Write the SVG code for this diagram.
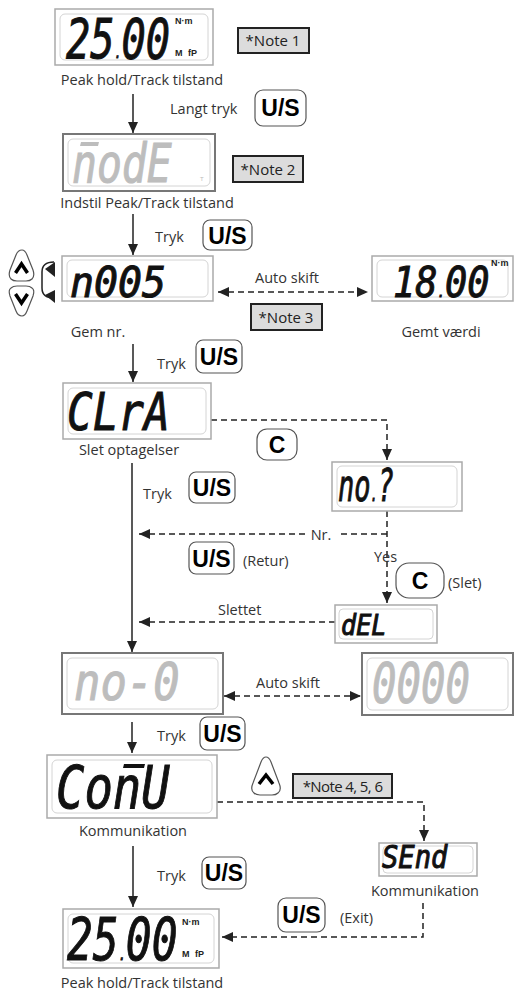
<svg xmlns="http://www.w3.org/2000/svg" width="520" height="993" viewBox="0 0 520 993">
<style>
.lbl{font-family:"Open Sans","Liberation Sans",sans-serif;font-size:14.5px;fill:#333}
.note-r{fill:#dcdcdc;stroke:#222;stroke-width:2}
.note-t{font-family:"Open Sans","Liberation Sans",sans-serif;font-size:15px;fill:#222;text-anchor:middle}
.lcd-o{fill:#fff;stroke:#aaa;stroke-width:1.5}
.lcd-od{fill:#fff;stroke:#777;stroke-width:2}
.lcd-i{fill:#fff;stroke:#d4d4d4;stroke-width:1}
.lcd{font-family:"DejaVu Sans Mono",monospace;font-style:oblique;fill:#111;stroke:#111;stroke-width:1}
.lcdg{font-family:"DejaVu Sans Mono",monospace;font-style:oblique;fill:#bdbdbd;stroke:#bdbdbd;stroke-width:1}
.unit{font-family:"Liberation Sans",sans-serif;font-weight:bold;font-size:9px;fill:#222}
.btn{fill:#fff;stroke:#555;stroke-width:1.2}
.btn-t{font-family:"Liberation Sans",sans-serif;font-weight:bold;font-size:23px;fill:#000;text-anchor:middle}
.solid{fill:none;stroke:#222;stroke-width:1.5}
.dash{fill:none;stroke:#222;stroke-width:1.5;stroke-dasharray:6 4}
.chev{fill:none;stroke:#000;stroke-width:3.5;stroke-linejoin:miter;stroke-linecap:butt}
</style>
<defs>
<marker id="ah" markerUnits="userSpaceOnUse" markerWidth="12" markerHeight="10" refX="11" refY="5" orient="auto-start-reverse">
<path d="M0,0 L11,5 L0,10 Z" fill="#222"/>
</marker>
</defs>

<g id="connectors">
<path class="solid" d="M133,94 L133,133" marker-end="url(#ah)"/>
<path class="solid" d="M133,214 L133,255" marker-end="url(#ah)"/>
<path class="solid" d="M133,344 L133,382" marker-end="url(#ah)"/>
<path class="solid" d="M132,463 L132,652" marker-end="url(#ah)"/>
<path class="dash" d="M218,292 L368,292" marker-start="url(#ah)" marker-end="url(#ah)"/>
<path class="dash" d="M211,420 L387,420 L387,460" marker-end="url(#ah)"/>
<path class="dash" d="M387,534 L337,534"/>
<path class="dash" d="M305,534 L139,534" marker-end="url(#ah)"/>
<path class="dash" d="M387,511 L387,603" marker-end="url(#ah)"/>
<path class="dash" d="M335,622 L139,622" marker-end="url(#ah)"/>
<path class="dash" d="M224,696 L361,696" marker-start="url(#ah)" marker-end="url(#ah)"/>
<path class="solid" d="M132,722 L132,753" marker-end="url(#ah)"/>
<path class="dash" d="M217,802 L424,802 L424,841" marker-end="url(#ah)"/>
<path class="solid" d="M133,846 L133,907" marker-end="url(#ah)"/>
<path class="dash" d="M423,903 L423,937 L222,937" marker-end="url(#ah)"/>
<path class="solid" d="M54,262 Q42,262 42,272 L42,288 Q42,298 54,298"/>
<path d="M45,269 L55,262 L55,277 Z" fill="#222"/>
<path d="M45,295 L55,290 L55,303 Z" fill="#222"/>
</g>

<g id="peak-top">
<rect class="lcd-o" x="55" y="9" width="158" height="56"/>
<rect class="lcd-i" x="60" y="14" width="148" height="46" rx="5"/>
<text class="lcd" transform="translate(66,58) scale(0.72,1)" font-size="56">25<tspan font-size="16">.</tspan>00</text>
<text class="unit" x="175" y="24">N·m</text>
<text class="unit" x="175" y="56" font-size="7">M</text>
<text class="unit" x="188" y="56" font-size="7">fP</text>
<text class="lbl" x="142" y="85" text-anchor="middle">Peak hold/Track tilstand</text>
</g>
<g id="note1"><rect class="note-r" x="238" y="28" width="71" height="25"/><text class="note-t" x="273" y="46">*Note 1</text></g>

<g id="btn-us-1"><text class="lbl" x="170" y="114">Langt tryk</text><rect class="btn" x="255" y="90" width="51" height="36" rx="8"/><text class="btn-t" x="280.5" y="116">U/S</text></g>

<g id="mode">
<rect class="lcd-od" x="63" y="134" width="152" height="57"/>
<rect class="lcd-i" x="68" y="139" width="142" height="47" rx="5"/>
<polygon points="81,142 99,142 98,146 80,146" fill="#bdbdbd"/>
<text class="lcdg" transform="translate(72,182) scale(0.78,1)" font-size="53">nodE</text>
<text x="200" y="181" font-family="Liberation Sans,sans-serif" font-size="6" fill="#bbb">T</text>
<text class="lbl" x="147" y="208" text-anchor="middle">Indstil Peak/Track tilstand</text>
</g>
<g id="note2"><rect class="note-r" x="233" y="156" width="70" height="26"/><text class="note-t" x="268" y="175">*Note 2</text></g>

<g id="btn-us-2"><text class="lbl" x="155" y="242">Tryk</text><rect class="btn" x="203" y="220" width="49" height="30" rx="7"/><text class="btn-t" x="227.5" y="244">U/S</text></g>

<g id="updown">
<path class="btn" d="M22,250 Q25,250 27,255 L33,270 Q35,276 32,279 Q30,281 26,281 L17,281 Q13,281 11,279 Q8,276 10,270 L16,255 Q18,250 22,250 Z"/>
<polyline class="chev" points="15.5,273 21.5,264 27.5,273"/>
<path class="btn" d="M22,316 Q25,316 27,311 L33,296 Q35,290 32,288 Q30,286 26,286 L17,286 Q13,286 11,288 Q8,290 10,296 L16,311 Q18,316 22,316 Z"/>
<polyline class="chev" points="15.5,294 21.5,303 27.5,294"/>
</g>

<g id="memno">
<rect class="lcd-o" x="62" y="256" width="151" height="45"/>
<rect class="lcd-i" x="67" y="260" width="141" height="37" rx="5"/>
<text class="lcd" transform="translate(70,297) scale(0.95,1)" font-size="42">n005</text>
<text class="lbl" x="98" y="337" text-anchor="middle">Gem nr.</text>
</g>
<text class="lbl" x="287" y="283" text-anchor="middle">Auto skift</text>
<g id="note3"><rect class="note-r" x="251" y="304" width="71" height="26"/><text class="note-t" x="286" y="323">*Note 3</text></g>

<g id="memval">
<rect class="lcd-o" x="372" y="256" width="141" height="45"/>
<rect class="lcd-i" x="377" y="260" width="131" height="37" rx="5"/>
<text class="lcd" transform="translate(393,297) scale(0.88,1)" font-size="42">18<tspan font-size="14">.</tspan>00</text>
<text class="unit" x="491" y="266" font-size="8">N·m</text>
<text class="lbl" x="441" y="337" text-anchor="middle">Gemt værdi</text>
</g>

<g id="btn-us-3"><text class="lbl" x="157" y="369">Tryk</text><rect class="btn" x="196" y="340" width="46" height="33" rx="7"/><text class="btn-t" x="219" y="365">U/S</text></g>

<g id="clra">
<rect class="lcd-o" x="63" y="383" width="148" height="56"/>
<rect class="lcd-i" x="68" y="388" width="138" height="46" rx="5"/>
<text class="lcd" transform="translate(67,430) scale(0.82,1)" font-size="52">CLrA</text>
<text class="lbl" x="129" y="455" text-anchor="middle">Slet optagelser</text>
</g>

<g id="btn-c-1"><rect class="btn" x="257" y="429" width="40" height="31" rx="10"/><text class="btn-t" x="277" y="453">C</text></g>

<g id="btn-us-4"><text class="lbl" x="143" y="499">Tryk</text><rect class="btn" x="189" y="472" width="46" height="31" rx="7"/><text class="btn-t" x="212" y="496">U/S</text></g>

<g id="noq">
<rect class="lcd-o" x="332" y="462" width="130" height="49"/>
<rect class="lcd-i" x="337" y="466" width="120" height="41" rx="5"/>
<text class="lcd" transform="translate(338,501) scale(0.6,1)" font-size="45">no<tspan font-size="20">.</tspan>?</text>
</g>

<text class="lbl" x="321" y="540" text-anchor="middle">Nr.</text>
<text class="lbl" x="374" y="562">Yes</text>

<g id="btn-us-retur"><rect class="btn" x="189" y="542" width="45" height="32" rx="7"/><text class="btn-t" x="211.5" y="567">U/S</text><text class="lbl" x="243" y="566">(Retur)</text></g>

<g id="btn-c-slet"><rect class="btn" x="396" y="563" width="48" height="35" rx="13"/><text class="btn-t" x="420" y="589">C</text><text class="lbl" x="448" y="588">(Slet)</text></g>

<text class="lbl" x="218" y="615">Slettet</text>

<g id="del">
<rect class="lcd-o" x="335" y="605" width="102" height="38"/>
<rect class="lcd-i" x="339" y="609" width="94" height="30" rx="4"/>
<text class="lcd" transform="translate(341,635) scale(0.9,1)" font-size="28">dEL</text>
</g>

<g id="no0">
<rect class="lcd-od" x="62" y="653" width="161" height="61"/>
<rect class="lcd-i" x="67" y="658" width="151" height="51" rx="5"/>
<text class="lcdg" transform="translate(74,700) scale(0.86,1)" font-size="51">no-0</text>
</g>
<text class="lbl" x="288" y="688" text-anchor="middle">Auto skift</text>
<g id="zeros">
<rect class="lcd-od" x="362" y="653" width="151" height="62"/>
<rect class="lcd-i" x="367" y="658" width="141" height="52" rx="5"/>
<text class="lcdg" transform="translate(372,702) scale(0.74,1)" font-size="55">0000</text>
</g>

<g id="btn-us-5"><text class="lbl" x="157" y="741">Tryk</text><rect class="btn" x="200" y="717" width="45" height="33" rx="7"/><text class="btn-t" x="222.5" y="742">U/S</text></g>

<g id="conu">
<rect class="lcd-o" x="47" y="755" width="170" height="63"/>
<rect class="lcd-i" x="52" y="760" width="160" height="53" rx="5"/>
<polygon points="124,764 145,764 144,768 123,768" fill="#111"/>
<text class="lcd" transform="translate(56,808) scale(0.8,1)" font-size="59">ConU</text>
<text class="lbl" x="133" y="836" text-anchor="middle">Kommunikation</text>
</g>

<g id="btn-up-2">
<path class="btn" d="M266,757 Q269,757 271,762 L279,783 Q282,790 278,793 Q276,795 272,795 L260,795 Q256,795 254,793 Q250,790 253,783 L261,762 Q263,757 266,757 Z"/>
<polyline class="chev" points="259,784 266,775 273,784"/>
</g>
<g id="note456"><rect class="note-r" x="293" y="774" width="99" height="24"/><text class="note-t" x="342.5" y="792" letter-spacing="-0.6">*Note 4, 5, 6</text></g>

<g id="send">
<rect class="lcd-o" x="379" y="843" width="98" height="33"/>
<rect class="lcd-i" x="383" y="846" width="90" height="27" rx="4"/>
<text class="lcd" transform="translate(382,868) scale(0.85,1)" font-size="32">SEnd</text>
<text class="lbl" x="425" y="896" text-anchor="middle">Kommunikation</text>
</g>

<g id="btn-us-6"><text class="lbl" x="157" y="881">Tryk</text><rect class="btn" x="202" y="857" width="44" height="32" rx="7"/><text class="btn-t" x="224" y="881">U/S</text></g>

<g id="btn-us-exit"><rect class="btn" x="278" y="898" width="47" height="34" rx="8"/><text class="btn-t" x="301.5" y="923">U/S</text><text class="lbl" x="340" y="923">(Exit)</text></g>

<g id="peak-bottom">
<rect class="lcd-o" x="63" y="909" width="156" height="59"/>
<rect class="lcd-i" x="68" y="914" width="146" height="49" rx="5"/>
<text class="lcd" transform="translate(67,960) scale(0.74,1)" font-size="58">25<tspan font-size="16">.</tspan>00</text>
<text class="unit" x="182" y="925">N·m</text>
<text class="unit" x="182" y="957" font-size="7">M</text>
<text class="unit" x="195" y="957" font-size="7">fP</text>
<text class="lbl" x="142" y="988" text-anchor="middle">Peak hold/Track tilstand</text>
</g>
</svg>
